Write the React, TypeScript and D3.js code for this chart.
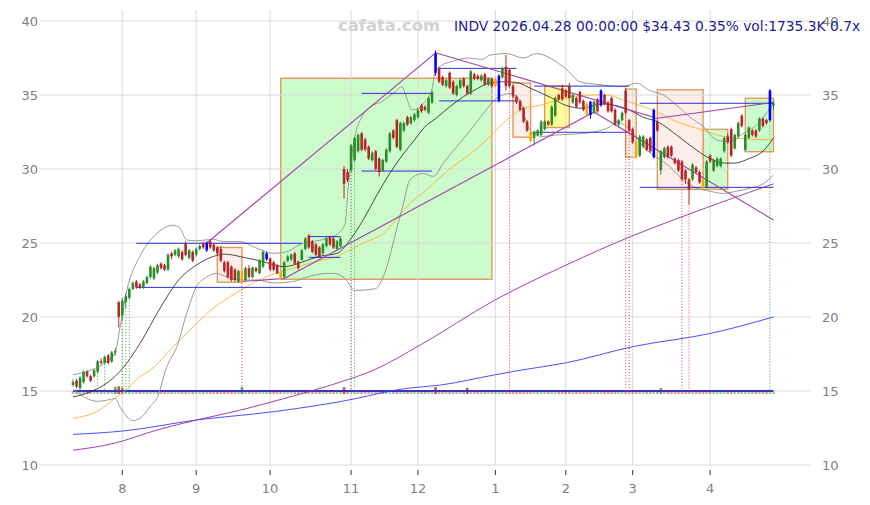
import { useEffect, useRef } from 'react';
import * as d3 from 'd3';

// month ticks: bar index of the first session of each month
const tickBars = [14, 35, 56, 79, 98, 120, 140, 159, 181];
const tickLabels = ['8', '9', '10', '11', '12', '1', '2', '3', '4'];
const priceTicks = [10, 15, 20, 25, 30, 35, 40];

const title = 'INDV 2026.04.28 00:00:00 $34.43 0.35% vol:1735.3K 0.7x';
const watermark = 'cafata.com';

// daily bars, 2025-07-14 .. 2026-04-28: open, high, low, close
const ohlc: number[][] = [
  [15.4, 15.8, 15.3, 15.6], [15.7, 15.8, 15.2, 15.3], [15.2, 16.0, 15.0, 15.9], [15.6, 16.4, 15.5, 16.3], [16.3, 16.4, 15.9, 16.0],
  [16.0, 16.1, 15.6, 15.7], [16.0, 16.5, 15.9, 16.4], [16.3, 17.1, 16.2, 17.0], [17.0, 17.2, 16.8, 16.9], [16.9, 17.4, 16.8, 17.3],
  [17.4, 17.5, 16.8, 16.9], [17.0, 17.7, 16.9, 17.6], [17.6, 17.9, 17.4, 17.7], [21.0, 21.1, 19.3, 20.0], [20.1, 21.3, 19.8, 21.1],
  [21.0, 21.6, 20.6, 21.4], [21.3, 22.0, 21.2, 21.9], [21.9, 22.4, 21.8, 22.3], [22.4, 22.5, 21.9, 22.0], [22.2, 22.3, 21.9, 22.0],
  [22.0, 22.5, 21.9, 22.4], [22.3, 22.8, 22.2, 22.7], [22.7, 23.5, 22.6, 23.4], [22.6, 23.4, 22.5, 23.3], [23.0, 23.6, 22.9, 23.5],
  [23.6, 23.7, 23.2, 23.3], [23.5, 23.6, 23.1, 23.2], [23.2, 24.3, 23.1, 24.2], [24.3, 24.4, 23.9, 24.1], [24.2, 24.6, 24.1, 24.5],
  [24.1, 24.7, 24.0, 24.6], [24.4, 24.5, 23.8, 23.9], [25.0, 25.1, 24.1, 24.2], [24.0, 24.6, 23.9, 24.5], [24.4, 24.5, 23.7, 23.8],
  [24.2, 24.7, 24.1, 24.6], [24.6, 24.9, 24.5, 24.8], [25.0, 25.1, 24.6, 24.7], [24.5, 25.1, 24.4, 25.0], [25.1, 25.2, 24.6, 24.7],
  [24.9, 25.0, 24.4, 24.5], [24.7, 24.8, 24.2, 24.3], [24.6, 24.8, 23.7, 23.8], [23.7, 23.8, 23.0, 23.1], [23.7, 23.8, 22.6, 22.7],
  [23.4, 23.5, 22.4, 22.5], [23.2, 23.3, 22.4, 22.5], [22.4, 23.2, 22.3, 23.1], [22.4, 23.2, 22.3, 23.1], [22.5, 23.4, 22.4, 23.3],
  [23.3, 23.5, 22.6, 22.7], [22.7, 23.4, 22.6, 23.35], [23.3, 23.4, 23.0, 23.1], [22.95, 23.9, 22.9, 23.85], [23.4, 24.5, 23.3, 24.4],
  [23.9, 24.4, 23.8, 24.3], [23.95, 24.0, 23.1, 23.2], [23.7, 23.8, 23.1, 23.2], [23.5, 23.6, 22.9, 22.95], [23.0, 23.1, 22.5, 22.6],
  [22.7, 23.8, 22.6, 23.7], [23.8, 24.2, 23.7, 24.1], [23.9, 24.3, 23.8, 24.2], [24.3, 24.4, 23.5, 23.6], [23.75, 23.8, 23.2, 23.3],
  [23.85, 24.6, 23.8, 24.5], [24.6, 25.4, 24.5, 25.3], [25.5, 25.6, 24.6, 24.7], [25.1, 25.2, 24.3, 24.4], [24.9, 25.0, 24.1, 24.2],
  [24.7, 24.8, 24.0, 24.1], [24.3, 25.0, 24.2, 24.9], [24.8, 25.4, 24.7, 25.3], [25.4, 25.5, 24.8, 24.9], [25.3, 25.4, 24.6, 24.7],
  [24.6, 25.2, 24.5, 25.1], [24.8, 25.4, 24.7, 25.3], [30.0, 30.2, 28.0, 29.0], [29.8, 30.0, 29.1, 29.25], [29.9, 31.7, 29.8, 31.6],
  [30.6, 32.2, 30.5, 32.1], [31.2, 32.4, 31.1, 32.3], [32.4, 32.5, 31.2, 31.3], [32.0, 32.1, 31.2, 31.3], [31.5, 31.6, 30.6, 30.7],
  [30.6, 31.2, 30.5, 31.1], [31.2, 31.3, 29.9, 30.0], [30.7, 30.8, 29.5, 29.8], [29.9, 30.7, 29.8, 30.6], [30.5, 31.4, 30.4, 31.3],
  [31.2, 32.5, 31.1, 32.4], [32.6, 32.7, 32.0, 32.1], [33.3, 33.4, 31.4, 31.5], [31.3, 33.2, 31.2, 33.1], [32.6, 33.2, 32.5, 33.1],
  [33.5, 33.6, 32.9, 33.0], [33.1, 33.6, 33.0, 33.5], [33.3, 33.8, 33.2, 33.7], [33.5, 34.1, 33.4, 34.0], [34.3, 34.4, 33.8, 33.9],
  [34.2, 34.3, 33.9, 34.0], [33.8, 34.9, 33.7, 34.8], [34.5, 35.3, 34.4, 35.2], [37.8, 38.0, 36.3, 36.5], [36.8, 36.9, 35.8, 35.9],
  [36.2, 36.3, 35.6, 35.7], [35.6, 36.1, 35.5, 36.0], [36.5, 36.6, 35.4, 35.5], [35.9, 36.0, 35.0, 35.1], [35.0, 35.7, 34.9, 35.6],
  [35.5, 36.1, 35.4, 36.0], [36.1, 36.2, 35.5, 35.6], [35.6, 35.7, 35.0, 35.1], [35.1, 36.7, 35.0, 36.6], [36.4, 36.5, 36.0, 36.1],
  [36.3, 36.4, 36.0, 36.1], [36.0, 36.4, 35.9, 36.3], [36.4, 36.5, 35.6, 35.7], [35.7, 36.2, 35.6, 36.1], [36.1, 36.2, 35.5, 35.6],
  [35.6, 36.2, 35.5, 36.1], [34.6, 36.4, 34.5, 36.3], [36.2, 36.9, 36.1, 36.8], [36.9, 37.7, 35.3, 35.6], [36.7, 36.8, 35.5, 35.6],
  [35.6, 35.7, 34.8, 34.9], [34.9, 35.0, 34.4, 34.5], [34.6, 34.7, 33.9, 34.0], [34.1, 34.2, 33.1, 33.2], [33.2, 33.3, 32.5, 32.6],
  [32.5, 32.6, 31.8, 31.9], [32.1, 32.6, 31.6, 32.5], [32.3, 32.7, 32.2, 32.6], [32.3, 33.3, 32.2, 33.2], [32.7, 33.3, 32.6, 33.2],
  [33.2, 33.3, 32.9, 33.0], [33.0, 34.3, 32.9, 34.2], [33.6, 34.9, 33.5, 34.8], [35.0, 35.1, 34.6, 34.7], [35.45, 35.7, 34.6, 34.7],
  [35.3, 35.4, 34.8, 34.9], [35.6, 35.8, 34.7, 34.8], [34.5, 35.1, 34.4, 35.0], [34.8, 34.9, 34.1, 34.2], [35.2, 35.3, 34.4, 34.5],
  [34.6, 34.7, 33.9, 34.0], [34.4, 34.5, 33.6, 33.65], [34.55, 34.6, 33.4, 33.65], [33.8, 34.6, 33.7, 34.55], [34.7, 34.8, 33.8, 33.9],
  [34.3, 35.4, 34.2, 35.3], [35.0, 35.1, 34.3, 34.4], [34.5, 34.6, 33.8, 33.9], [34.8, 34.9, 33.8, 33.9], [34.0, 34.1, 32.9, 33.0],
  [33.0, 33.4, 32.8, 33.3], [33.3, 33.9, 33.2, 33.8], [35.3, 35.5, 33.7, 33.8], [33.3, 33.4, 32.5, 32.6], [32.7, 32.8, 31.7, 31.8],
  [31.85, 31.9, 30.7, 30.8], [30.9, 32.3, 30.8, 32.2], [31.5, 32.3, 31.4, 32.2], [32.0, 32.1, 31.2, 31.3], [32.1, 32.2, 31.1, 31.2],
  [30.8, 34.1, 30.7, 34.0], [33.2, 33.3, 32.5, 32.6], [29.9, 31.3, 29.6, 31.2], [30.8, 31.5, 30.7, 31.4], [31.5, 31.6, 30.7, 30.8],
  [31.5, 31.6, 30.8, 30.9], [30.7, 30.8, 30.3, 30.4], [30.6, 30.7, 29.8, 29.9], [30.5, 30.6, 29.2, 29.3], [29.9, 30.0, 29.0, 29.3],
  [29.3, 29.4, 27.6, 28.6], [29.3, 30.4, 29.2, 30.3], [30.1, 30.2, 29.7, 29.8], [29.8, 29.9, 29.0, 29.1], [29.2, 29.3, 28.6, 28.7],
  [28.8, 30.6, 28.7, 30.5], [30.9, 31.0, 30.4, 30.5], [29.9, 30.7, 29.8, 30.6], [30.2, 30.8, 30.1, 30.7], [30.2, 30.8, 30.1, 30.7],
  [31.2, 32.2, 31.1, 32.1], [32.2, 32.4, 31.7, 31.8], [32.7, 32.8, 30.8, 30.9], [31.4, 32.4, 31.3, 32.3], [32.2, 33.2, 32.1, 33.1],
  [33.6, 33.7, 32.8, 32.9], [31.3, 32.4, 31.2, 32.3], [32.1, 32.9, 32.0, 32.8], [32.6, 32.7, 32.2, 32.3], [32.6, 32.7, 32.1, 32.2],
  [32.6, 33.5, 32.5, 33.4], [33.4, 33.5, 32.8, 32.9], [33.3, 33.4, 33.0, 33.1], [33.3, 35.4, 33.2, 35.3], [34.3, 34.6, 34.0, 34.43],
];

// volume in thousands of shares
const volume = [
  2100, 1800, 2600, 2400, 1900, 1700, 2000, 2800, 1600, 2300,
  1900, 2200, 5800, 6200, 5200, 3600, 3200, 2400, 2100, 1800,
  2000, 2300, 2600, 2200, 1900, 1800, 1700, 2500, 2000, 1900,
  2100, 2200, 2400, 1800, 2000, 1900, 1700, 1600, 2200, 1800,
  1900, 2100, 2400, 2300, 2600, 2500, 2200, 2100, 5600, 2300,
  2000, 1900, 1800, 2200, 2400, 2000, 1900, 2100, 2000, 2300,
  2500, 2100, 1900, 2000, 1800, 2200, 2600, 2400, 2100, 1900,
  1800, 2000, 2200, 1900, 1800, 2000, 2100, 5400, 3000, 3400,
  3200, 2600, 2300, 2100, 2000, 2200, 2400, 2100, 1900, 2000,
  2500, 2200, 2600, 2400, 1900, 1800, 2000, 2100, 2200, 1900,
  2000, 2300, 2500, 5600, 3100, 2400, 2200, 2000, 2100, 1900,
  1800, 2000, 5000, 2600, 2100, 1900, 1800, 2000, 1900, 1700,
  1800, 2600, 2300, 2900, 2700, 2400, 2200, 2000, 2300, 2500,
  2600, 2200, 2000, 2100, 1900, 1800, 2300, 2400, 2100, 2000,
  1900, 2100, 1800, 2000, 2200, 1900, 2100, 2300, 2000, 1900,
  2400, 2000, 2100, 2200, 2500, 2000, 2100, 2900, 2700, 2300,
  2400, 2200, 2000, 2100, 2300, 2800, 2500, 4800, 2600, 2200,
  2000, 2100, 2300, 2600, 2700, 2400, 2100, 2200, 2300, 2500,
  2400, 2200, 2000, 2100, 1900, 2300, 2100, 2500, 2200, 2000,
  2100, 1900, 2000, 1800, 1900, 2000, 1700, 1800, 2600, 1735.3,
];

// highlighted sessions
const blueBars = [38, 55, 103, 121, 147, 150, 165, 198];
const orangeBars = [48, 59, 120, 130, 146, 160, 179];

// indicator lines: [bar, price]
const ma20 = [[0, 14.6], [5, 14.95], [12, 16.0], [14, 16.5], [19, 18.2], [25, 20.7], [30, 22.5], [35, 23.5], [40, 24.1], [43, 24.25], [49, 24.0], [53, 23.8], [56, 23.6], [60, 23.4], [65, 23.7], [70, 24.1], [75, 24.3], [79, 25.3], [83, 26.8], [86, 28.1], [90, 29.7], [94, 31.06], [97, 31.96], [100, 32.86], [103, 33.4], [107, 34.2], [111, 34.9], [115, 35.45], [118, 35.8], [122, 35.9], [126, 35.85], [130, 35.45], [136, 34.8], [140, 34.3], [145, 34.1], [150, 34.4], [154, 34.3], [158, 34.0], [162, 33.5], [166, 33.2], [172, 32.2], [177, 31.3], [181, 30.7], [185, 30.4], [188, 30.4], [192, 30.7], [196, 31.2], [199, 32.1]];
const bbUpper = [[0, 16.1], [5, 16.4], [9.6, 17.0], [11.9, 17.55], [13.4, 19.35], [15.3, 21.8], [19, 24.1], [22.8, 25.4], [26.6, 26.1], [28.5, 26.2], [30.4, 26.0], [32.3, 25.2], [35.1, 25.15], [39.9, 25.25], [42.7, 25.1], [47.4, 25.1], [52.2, 24.65], [56.9, 24.3], [60.7, 24.4], [64.5, 24.9], [68.3, 25.1], [72.1, 25.3], [75.4, 25.65], [77.3, 26.3], [78.2, 28.8], [80.1, 32.2], [82, 33.5], [83.9, 34.1], [87.7, 34.55], [91.5, 35.2], [93.4, 35.56], [94.8, 34.8], [96.2, 34.0], [98.1, 34.1], [100, 34.55], [101.9, 35.3], [102.8, 36.5], [104.7, 37.0], [107.6, 37.25], [112.3, 37.5], [116.1, 37.4], [118.5, 37.7], [123.2, 37.8], [127.9, 37.5], [131.7, 37.8], [135.5, 37.5], [140.3, 36.7], [144, 35.9], [149.7, 35.7], [156.3, 35.56], [160.1, 35.8], [163.9, 35.3], [167.7, 35.0], [171.5, 34.3], [175.3, 33.5], [179.1, 32.86], [182.9, 31.96], [186.6, 31.85], [190.4, 32.4], [194.2, 32.97], [197.1, 33.8], [199, 34.4]];
const bbLower = [[0, 15.1], [7, 14.3], [10, 14.4], [12, 14.5], [13.4, 13.9], [15.3, 13.26], [17, 13.0], [19.6, 13.26], [21.9, 13.94], [24, 14.6], [26.6, 16.6], [29.5, 18.0], [32.3, 20.25], [35.1, 22.05], [38, 22.7], [40.8, 22.95], [43.7, 22.7], [47.4, 22.5], [52.2, 22.5], [56.9, 22.3], [62.6, 22.4], [66.4, 22.7], [70.2, 22.9], [73.9, 22.95], [77.3, 22.6], [80, 21.8], [85.8, 21.9], [88.6, 23.0], [92, 26.0], [93.8, 27.6], [95.7, 29.25], [99.5, 29.7], [102.4, 29.5], [105.2, 30.4], [109, 31.5], [112.8, 32.6], [116.6, 33.76], [120.4, 34.8], [124.1, 35.1], [127, 34.6], [128.9, 33.1], [130.8, 32.4], [133.6, 32.2], [137.4, 32.3], [145, 32.4], [152.6, 32.86], [154.5, 33.2], [156.5, 33.0], [159.2, 32.4], [162, 31.5], [165.8, 30.8], [169.6, 30.15], [173.4, 29.25], [177.2, 28.7], [181, 28.5], [184.7, 28.35], [188.5, 28.5], [192.3, 28.7], [196.1, 29.0], [199, 29.6]];
const ma50 = [[0, 13.15], [7.4, 13.7], [11.9, 14.5], [14.3, 14.9], [19, 15.97], [21.9, 16.4], [28.5, 18.0], [34.2, 19.35], [39.9, 20.6], [45.5, 21.5], [51.2, 22.3], [56.9, 22.9], [62.6, 23.3], [68.2, 23.7], [75, 24.1], [82.5, 25.0], [88.2, 25.65], [94.8, 27.45], [101.4, 28.8], [106.5, 29.9], [112.8, 31.0], [118.5, 32.2], [123.2, 33.3], [128, 34.1], [132.7, 34.3], [137.4, 34.66], [142.1, 34.9], [146.9, 35.0], [151.6, 35.0], [156.3, 34.66], [161, 34.3], [165.8, 33.87], [171.5, 33.2], [177.2, 32.75], [182.9, 32.3], [188.5, 32.07], [194.2, 32.0], [199, 31.96]];
const ma100 = [[0, 11.0], [11.6, 11.46], [23.8, 12.36], [35.1, 13.04], [47.4, 13.7], [61.6, 14.6], [75.9, 15.6], [85.3, 16.4], [98.6, 18.1], [119.9, 21.15], [140, 23.5], [159.1, 25.5], [170.5, 26.55], [199, 29.0]];
const ma200 = [[0, 12.07], [14.3, 12.3], [35.1, 13.04], [56.9, 13.6], [75.9, 14.28], [94.8, 15.18], [104.3, 15.4], [120, 16.1], [127, 16.4], [140, 16.9], [159.1, 18.0], [181.3, 18.9], [199, 20.0]];

// consolidation boxes: [from bar, to bar, top, bottom]
const greenBoxes = [[59, 119, 36.13, 22.55], [179, 186, 32.68, 28.63], [191, 199, 34.78, 31.17]];
const redBoxes = [[41, 48, 24.7, 22.35], [125, 130, 35.8, 32.15], [157, 160, 35.4, 30.8], [166, 179, 35.35, 28.63]];
const yellowBoxes = [[134, 141, 35.6, 32.8]];

// support / resistance segments: [from bar, to bar, price]
const levels = [
  [18, 65, 24.98], [18, 65, 22.0], [67, 76, 25.43], [67, 76, 24.03], [82, 102, 35.11], [82, 102, 29.86],
  [104, 126, 36.8], [104, 126, 34.6], [131, 158, 35.6], [131, 158, 32.48], [161, 199, 34.44], [161, 199, 28.76],
];

// pivot trend lines: [bar1, price1, bar2, price2]
const trendLines = [
  [38, 25.0, 103, 37.85], [103, 37.85, 165, 33.5], [165, 33.4, 199, 34.5],
  [48, 22.4, 60, 22.6], [60, 22.6, 148, 33.85], [148, 33.85, 199, 26.55],
];

// volume spike markers
const spikeUp = [7, 9, 14, 15, 16, 79, 80, 198];
const spikeDown = [48, 124, 157, 158, 173, 175];

function Chart() {
  const ref = useRef<SVGSVGElement>(null);

  useEffect(() => {
    const svg = d3.select(ref.current);
    svg.selectAll('*').remove();

    const x = d3.scaleLinear().domain([-9.375, 209.375]).range([40, 810]);
    const y = d3.scaleLinear().domain([10, 40]).range([465, 21]);
    const vh = d3.scaleLinear().domain([0, 6500]).range([0, 8]);
    const font = 'DejaVu Sans, Verdana, sans-serif';
    const bw = 2.6;

    // boxes
    const gBox = svg.append('g');
    const addBoxes = (list: number[][], fill: string) => {
      gBox.selectAll(null).data(list).enter().append('rect')
        .attr('x', d => x(d[0])).attr('width', d => x(d[1]) - x(d[0]))
        .attr('y', d => y(d[2])).attr('height', d => y(d[3]) - y(d[2]))
        .attr('fill', fill).attr('stroke', '#e39a5e').attr('stroke-width', 1.4);
    };
    addBoxes(greenBoxes, '#ccfccc');
    addBoxes(redBoxes, '#fdeee9');
    addBoxes(yellowBoxes, '#ffff99');

    // grid
    const grid = svg.append('g').attr('stroke', '#d9d9d9').attr('stroke-width', 1);
    grid.selectAll(null).data(priceTicks).enter().append('line')
      .attr('x1', 40).attr('x2', 811).attr('y1', d => y(d)).attr('y2', d => y(d));
    grid.selectAll(null).data(tickBars).enter().append('line')
      .attr('x1', d => x(d)).attr('x2', d => x(d)).attr('y1', 10).attr('y2', 465);

    // axis text
    const axis = svg.append('g').attr('font-family', font).attr('font-size', 13).attr('fill', '#808080');
    axis.selectAll(null).data(priceTicks).enter().append('text')
      .attr('x', 38).attr('y', d => y(d) + 4.5).attr('text-anchor', 'end').text(d => d);
    axis.selectAll(null).data(priceTicks).enter().append('text')
      .attr('x', 822).attr('y', d => y(d) + 4.5).text(d => d);
    axis.selectAll(null).data(tickBars).enter().append('text')
      .attr('x', d => x(d)).attr('y', 493).attr('text-anchor', 'middle').text((_, i) => tickLabels[i]);
    svg.append('g').selectAll(null).data(tickBars).enter().append('line')
      .attr('x1', d => x(d)).attr('x2', d => x(d)).attr('y1', 470).attr('y2', 475)
      .attr('stroke', '#333').attr('stroke-width', 1);

    const isUp = (d: number[]) => d[3] >= d[0];

    // volume
    svg.append('g').selectAll(null).data(ohlc).enter().append('rect')
      .attr('x', (_, i) => x(i) - bw / 2).attr('width', bw)
      .attr('y', (_, i) => y(14.8) - vh(volume[i])).attr('height', (_, i) => vh(volume[i]))
      .attr('fill', d => (isUp(d) ? '#3c9a3c' : '#c03030'))
      .attr('opacity', (_, i) => (volume[i] > 4500 ? 0.85 : 0.5));
    svg.append('line')
      .attr('x1', x(0)).attr('x2', x(ohlc.length - 1)).attr('y1', y(15)).attr('y2', y(15))
      .attr('stroke', '#3a32c0').attr('stroke-width', 2);

    // indicator lines
    const line = d3.line<number[]>().x(d => x(d[0])).y(d => y(d[1])).curve(d3.curveMonotoneX);
    const addPath = (pts: number[][], color: string, w: number) => {
      svg.append('path').attr('d', line(pts)).attr('fill', 'none').attr('stroke', color).attr('stroke-width', w);
    };
    addPath(ma200, '#3a3aff', 0.9);
    addPath(ma100, '#952e95', 0.9);
    addPath(ma50, '#ffb02e', 0.9);
    addPath(bbUpper, '#9a9a9a', 1);
    addPath(bbLower, '#9a9a9a', 1);
    addPath(ma20, '#1e1e1e', 0.8);

    // support / resistance
    svg.append('g').selectAll(null).data(levels).enter().append('line')
      .attr('x1', d => x(d[0])).attr('x2', d => x(d[1])).attr('y1', d => y(d[2])).attr('y2', d => y(d[2]))
      .attr('stroke', '#1a1ad0').attr('stroke-width', 0.9);

    // trend lines
    svg.append('g').selectAll(null).data(trendLines).enter().append('line')
      .attr('x1', d => x(d[0])).attr('y1', d => y(d[1])).attr('x2', d => x(d[2])).attr('y2', d => y(d[3]))
      .attr('stroke', '#a040a8').attr('stroke-width', 1.1);

    // spike markers
    const addSpikes = (list: number[], color: string) => {
      svg.append('g').selectAll(null).data(list).enter().append('line')
        .attr('x1', d => x(d)).attr('x2', d => x(d)).attr('y1', d => y(ohlc[d][2])).attr('y2', y(15))
        .attr('stroke', color).attr('stroke-width', 1).attr('stroke-dasharray', '1,2');
    };
    addSpikes(spikeUp, '#3aa03a');
    addSpikes(spikeDown, '#d04040');

    // candles
    const colorOf = (d: number[], i: number) => {
      if (blueBars.includes(i)) return '#0000ff';
      if (orangeBars.includes(i)) return '#ffa500';
      return isUp(d) ? '#2a8c2a' : '#b52626';
    };
    const gc = svg.append('g');
    gc.selectAll(null).data(ohlc).enter().append('line')
      .attr('x1', (_, i) => x(i)).attr('x2', (_, i) => x(i))
      .attr('y1', d => y(d[1])).attr('y2', d => y(d[2]))
      .attr('stroke', colorOf).attr('stroke-width', 1);
    gc.selectAll(null).data(ohlc).enter().append('rect')
      .attr('x', (_, i) => x(i) - bw / 2).attr('width', bw)
      .attr('y', d => y(Math.max(d[0], d[3])))
      .attr('height', d => Math.max(1, Math.abs(y(d[0]) - y(d[3]))))
      .attr('fill', colorOf);

    // header
    svg.append('text').attr('x', 338).attr('y', 31).attr('font-family', font).attr('font-weight', 'bold')
      .attr('font-size', 16.4).attr('fill', '#d2d2d2').text(watermark);
    svg.append('text').attr('x', 454).attr('y', 31).attr('font-family', font)
      .attr('font-size', 13.8).attr('fill', '#1c1c96').text(title);
  }, []);

  return <svg ref={ref} width={870} height={505} style={{ position: 'absolute', left: 0, top: 0, background: '#fff' }} />;
}

export default function App() {
  return <Chart />;
}
